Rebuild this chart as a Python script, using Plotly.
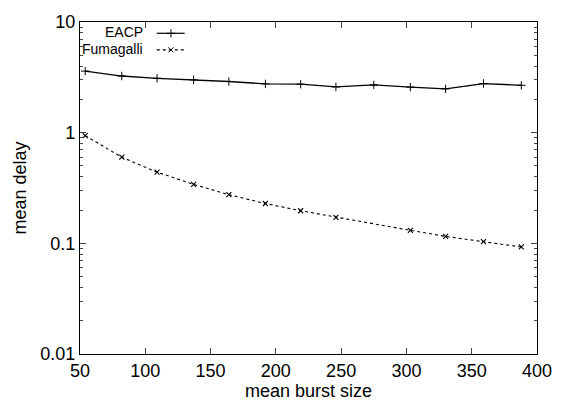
import plotly.graph_objects as go

# data
x_eacp = [54, 82, 109, 137, 164, 192, 219, 246, 275, 303, 330, 359, 388]
y_eacp = [3.6, 3.25, 3.1, 3.0, 2.9, 2.76, 2.74, 2.59, 2.70, 2.58, 2.49, 2.78, 2.68]

x_fuma = [54, 82, 109, 137, 164, 192, 219, 246, 303, 330, 359, 388]
y_fuma = [0.94, 0.60, 0.44, 0.341, 0.275, 0.229, 0.197, 0.172, 0.131, 0.1155, 0.1035, 0.0927]

x_ticks = [50, 100, 150, 200, 250, 300, 350, 400]
y_ticks = [0.01, 0.1, 1, 10]
y_ticktext = ["0.01", "0.1", "1", "10"]
y_minor = [m * d for d in (0.01, 0.1, 1) for m in range(2, 10)]

FONT = "Liberation Sans, Arial, sans-serif"

fig = go.Figure()

fig.add_trace(go.Scatter(
    x=x_eacp, y=y_eacp, mode="lines+markers", name="EACP",
    line=dict(color="black", width=1.3),
    marker=dict(symbol="cross-thin", size=6, line=dict(color="black", width=1)),
))
fig.add_trace(go.Scatter(
    x=x_fuma, y=y_fuma, mode="lines+markers", name="Fumagalli",
    line=dict(color="black", width=1.1, dash="3px,3px"),
    marker=dict(symbol="x-thin", size=5, line=dict(color="black", width=1.1)),
))

# gnuplot-style legend: text right-aligned, sample to the right (overlay axis in paper units)
legend_rows = [
    ("EACP", 0.966, "cross-thin", "solid", 6),
    ("Fumagalli", 0.916, "x-thin", "3px,3px", 5),
]
for label, yy, sym, dash, ms in legend_rows:
    fig.add_trace(go.Scatter(
        x=[0.168, 0.229], y=[yy, yy], mode="lines", xaxis="x2", yaxis="y2",
        line=dict(color="black", width=1.2, dash=dash), showlegend=False,
        hoverinfo="skip",
    ))
    fig.add_trace(go.Scatter(
        x=[0.199], y=[yy], mode="markers", xaxis="x2", yaxis="y2",
        marker=dict(symbol=sym, size=ms, line=dict(color="black", width=1)),
        showlegend=False, hoverinfo="skip",
    ))
    fig.add_annotation(
        text=label, x=0.142, y=yy + 0.004, xref="paper", yref="paper",
        xanchor="right", yanchor="middle", showarrow=False,
        font=dict(family=FONT, size=14, color="black"),
    )

fig.update_layout(
    width=564, height=411,
    paper_bgcolor="white", plot_bgcolor="white",
    margin=dict(l=80, r=13, t=18, b=57),
    showlegend=False,
    font=dict(family=FONT, size=18, color="black"),
    xaxis=dict(
        range=[50, 400], tickvals=x_ticks, ticks="inside", ticklen=6,
        showline=True, linecolor="black", linewidth=1.2, mirror="ticks",
        showgrid=False, zeroline=False, ticklabeloverflow="allow",
        title=dict(text="mean burst size", standoff=4, font=dict(size=18)),
        tickfont=dict(size=18),
    ),
    yaxis=dict(
        type="log", range=[-2, 1], tickvals=y_ticks, ticktext=y_ticktext,
        ticks="inside", ticklen=6,
        minor=dict(tickmode="array", tickvals=y_minor, ticks="inside",
                   ticklen=3, showgrid=False),
        showline=True, linecolor="black", linewidth=1.2, mirror="ticks",
        showgrid=False, zeroline=False,
        title=dict(text="mean delay", standoff=8, font=dict(size=18)),
        tickfont=dict(size=18),
    ),
    xaxis2=dict(range=[0, 1], overlaying="x", visible=False, fixedrange=True),
    yaxis2=dict(range=[0, 1], overlaying="y", visible=False, fixedrange=True),
)

# drop the default 8px body margin so the figure sits at the window's corner
fig.write_html("out.html", config={"displayModeBar": False},
               post_script="document.body.style.margin='0';")
